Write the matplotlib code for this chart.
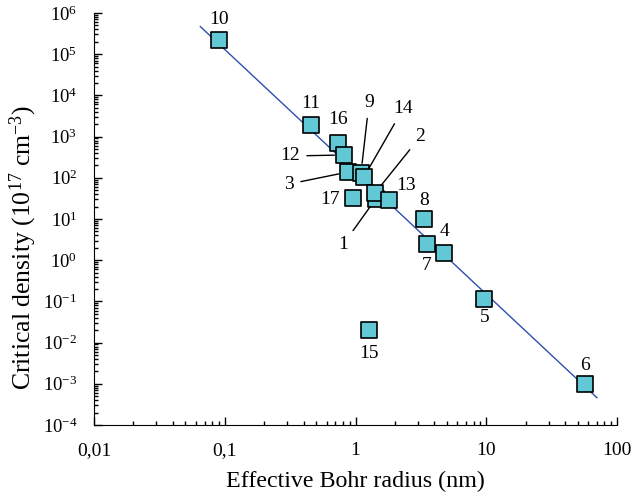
import numpy as np
import matplotlib
matplotlib.use("Agg")
import matplotlib.pyplot as plt
from matplotlib.ticker import LogLocator, FixedLocator, FixedFormatter, NullFormatter

plt.rcParams['font.family'] = ['Liberation Serif', 'DejaVu Serif']
plt.rcParams['mathtext.fontset'] = 'custom'
plt.rcParams['mathtext.rm'] = 'Liberation Serif'
plt.rcParams['mathtext.it'] = 'Liberation Serif:italic'

# data
labels = ['1', '2', '3', '4', '5', '6', '7', '8', '9', '10', '11', '12', '13', '14', '15', '16', '17']
bohr_radius = [1.43, 1.41, 0.877, 4.75, 9.6, 57.0, 3.52, 3.34, 1.10, 0.090, 0.457, 0.817, 1.80, 1.16, 1.27, 0.735, 0.957]
crit_density = [31.0, 43.0, 138, 1.5, 0.114, 0.001, 2.47, 10.0, 131, 2.2e5, 1.9e3, 357, 28.9, 105, 0.02, 700, 32.0]

# fit line  n = C * a^k
fit_x = [0.065, 70.0]
fit_c = 139.0
fit_k = -2.97

y_ticks = [1e-4, 1e-3, 1e-2, 1e-1, 1, 10, 100, 1e3, 1e4, 1e5, 1e6]
y_ticklabels = ['10$^{-4}$', '10$^{-3}$', '10$^{-2}$', '10$^{-1}$', '10$^{0}$', '10$^{1}$',
                '10$^{2}$', '10$^{3}$', '10$^{4}$', '10$^{5}$', '10$^{6}$']
x_ticks = [0.01, 0.1, 1, 10, 100]
x_ticklabels = ['0,01', '0,1', '1', '10', '100']

# label offsets in pixels (dx, dy with y down) and whether a leader line is drawn
label_offsets = {
    '1': (-33, 46, True), '2': (45, -56, True), '3': (-59, 12, True), '4': (0, -21, False),
    '5': (1, 18, False), '6': (0, -18, False), '7': (0, 22, False), '8': (0, -18, False),
    '9': (8, -70, True), '10': (0, -21, False), '11': (0, -22, False), '12': (-54, 1, True),
    '13': (17, -14, False), '14': (39, -68, True), '15': (0, 23, False), '16': (0, -23, False),
    '17': (-23, 1, False),
}

fig = plt.figure(figsize=(6.33, 4.98), dpi=100)
ax = fig.add_axes([0.1485, 0.1466, 0.8265, 0.8274])

xs = np.logspace(np.log10(fit_x[0]), np.log10(fit_x[1]), 50)
ax.plot(xs, fit_c * xs ** fit_k, color='#2f4fb0', lw=1.0, zorder=1)

# draw squares in an order so that overlaps look like the original
order = [9, 10, 15, 11, 2, 8, 13, 0, 1, 16, 12, 7, 6, 3, 4, 5, 14]
ax.scatter([bohr_radius[i] for i in order], [crit_density[i] for i in order],
           marker='s', s=130, facecolor='#62c8d5', edgecolor='black', linewidth=1.2, zorder=3)

for lab, x, y in zip(labels, bohr_radius, crit_density):
    dx, dy, leader = label_offsets[lab]
    if leader:
        ax.annotate(lab, (x, y), xytext=(dx * 0.72, -dy * 0.72), textcoords='offset points',
                    ha='center', va='center', fontsize=14,
                    arrowprops=dict(arrowstyle='-', color='black', lw=1.0, shrinkA=3, shrinkB=7))
    else:
        ax.annotate(lab, (x, y), xytext=(dx * 0.72, -dy * 0.72), textcoords='offset points',
                    ha='center', va='center', fontsize=14)

ax.set_xscale('log')
ax.set_yscale('log')
ax.set_xlim(0.01, 100)
ax.set_ylim(1e-4, 1e6)

ax.xaxis.set_major_locator(FixedLocator(x_ticks))
ax.xaxis.set_major_formatter(FixedFormatter(x_ticklabels))
ax.xaxis.set_minor_locator(LogLocator(base=10, subs=np.arange(2, 10)))
ax.xaxis.set_minor_formatter(NullFormatter())
ax.yaxis.set_major_locator(FixedLocator(y_ticks))
ax.yaxis.set_major_formatter(FixedFormatter(y_ticklabels))
ax.yaxis.set_minor_locator(LogLocator(base=10, subs=np.arange(2, 10), numticks=20))
ax.yaxis.set_minor_formatter(NullFormatter())

ax.spines['top'].set_visible(False)
ax.spines['right'].set_visible(False)
ax.tick_params(which='both', direction='in', width=1.0)
ax.tick_params(which='major', length=6)
ax.tick_params(which='minor', length=3)
ax.tick_params(axis='x', pad=12, labelsize=14)
ax.tick_params(axis='y', pad=12, labelsize=13.5)

ax.set_xlabel('Effective Bohr radius (nm)', fontsize=17.3, labelpad=9)
ax.set_ylabel('Critical density (10$^{17}$ cm$^{-3}$)', fontsize=18.5)
ax.yaxis.set_label_coords(-0.106, 0.43)

fig.savefig('out.png', dpi=100)
